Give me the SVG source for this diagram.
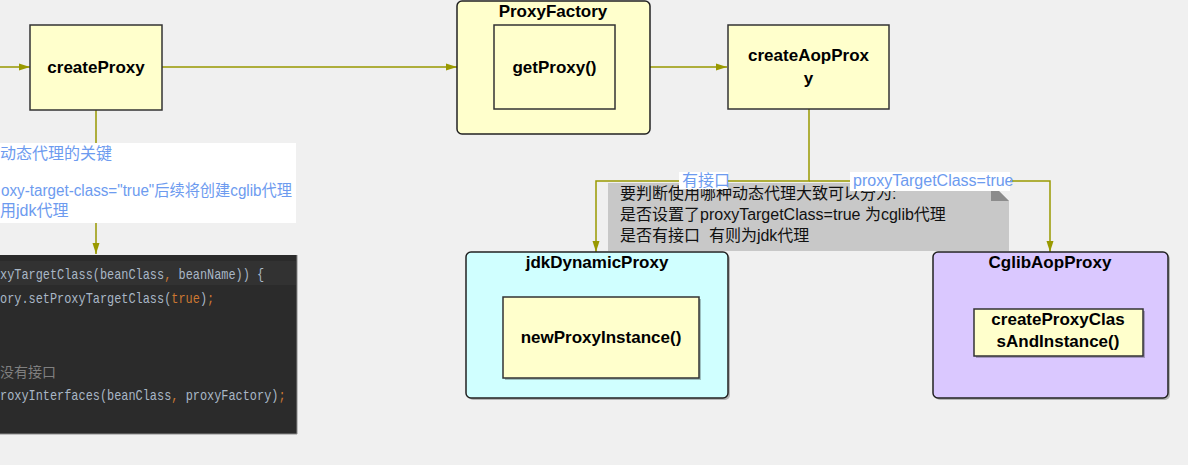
<svg xmlns="http://www.w3.org/2000/svg" width="1188" height="465" viewBox="0 0 1188 465">
<style>
.bg{fill:#f0f0f0}
.box{fill:#ffffcc;stroke:#333;stroke-width:1.5}
.outer{stroke:#222;stroke-width:1.5}
.shadow{fill:#000;opacity:0.25}
.t{font-family:"Liberation Sans","Noto Sans CJK SC",sans-serif;font-weight:bold;font-size:17px;fill:#000;text-anchor:middle}
.con{fill:none;stroke:#999900;stroke-width:1.5}
.lbl{font-family:"Liberation Sans","Noto Sans CJK SC",sans-serif;font-size:16px;fill:#6d9bef}
.note{font-family:"Liberation Sans","Noto Sans CJK SC",sans-serif;font-size:16px;fill:#111;white-space:pre}
.code{font-family:"Liberation Mono","Noto Sans CJK SC",monospace;font-size:14px;fill:#a9b7c6}
.kw{fill:#cc7832}
.cm{fill:#808080}
</style>
<defs>
<marker id="arr" markerUnits="userSpaceOnUse" markerWidth="11" markerHeight="8" refX="11" refY="4" orient="auto">
<path d="M0,0.5 L11,4 L0,7.5 z" fill="#999900"/>
</marker>
</defs>
<rect class="bg" x="0" y="0" width="1188" height="465"/>

<g id="connectors">
<path class="con" d="M0,67 H30" marker-end="url(#arr)"/>
<path class="con" d="M162,67 H457" marker-end="url(#arr)"/>
<path class="con" d="M650,67 H727" marker-end="url(#arr)"/>
<path class="con" d="M96,110 V254" marker-end="url(#arr)"/>
<path class="con" d="M809,109 V181 H596 V252" marker-end="url(#arr)"/>
<path class="con" d="M809,181 H1050 V252" marker-end="url(#arr)"/>
</g>

<g id="annotation-left">
<rect x="0" y="143" width="296" height="80" fill="#ffffff"/>
<text class="lbl" font-size="15" x="0" y="159">动态代理的关键</text>
<text class="lbl" font-size="15" x="1" y="196" textLength="291" lengthAdjust="spacingAndGlyphs">oxy-target-class="true"后续将创建cglib代理</text>
<text class="lbl" font-size="15" x="0" y="216">用jdk代理</text>
</g>

<g id="code-panel">
<rect x="0" y="255" width="297" height="179" fill="#2b2b2b"/>
<rect x="0" y="261" width="296" height="24" fill="#323232"/>
<path d="M297,255 V434 H0" fill="none" stroke="#8a8a8a" stroke-width="1"/>
<g transform="scale(0.85,1)">
<text class="code" x="0" y="279">xyTargetClass(beanClass</text>
<text class="code kw" x="193.2" y="279">,</text>
<text class="code" x="210" y="279">beanName)) {</text>
<text class="code" x="0" y="303">ory.setProxyTargetClass(</text>
<text class="code kw" x="201.6" y="303">true</text>
<text class="code" x="235.2" y="303">)</text>
<text class="code kw" x="243.6" y="303">;</text>
<text class="code" x="0" y="400">roxyInterfaces(beanClass</text>
<text class="code kw" x="201.6" y="400">,</text>
<text class="code" x="218.4" y="400">proxyFactory)</text>
<text class="code kw" x="327.6" y="400">;</text>
</g>
<text class="code cm" x="0" y="377">没有接口</text>
</g>

<g id="createProxy">
<rect class="box" x="30" y="25" width="132" height="85"/>
<text class="t" x="96" y="73">createProxy</text>
</g>

<g id="ProxyFactory">
<rect class="outer" x="457" y="1" width="193" height="133" rx="5" fill="#ffffcc"/>
<text class="t" x="553" y="17">ProxyFactory</text>
<g id="getProxy">
<rect class="box" x="494" y="25" width="121" height="84"/>
<text class="t" x="554.5" y="73">getProxy()</text>
</g>
</g>

<g id="createAopProxy">
<rect class="box" x="728" y="25" width="161" height="84"/>
<text class="t" x="808.5" y="61">createAopProx</text>
<text class="t" x="808.5" y="84">y</text>
</g>

<g id="note">
<path d="M608,183 H991 L1009,201 V251 H608 Z" fill="#c8c8c8"/>
<path d="M991,183 V201 H1009 Z" fill="#8c8c8c"/>
<text class="note" x="620" y="199">要判断使用哪种动态代理大致可以分为:</text>
<text class="note" x="620" y="220">是否设置了proxyTargetClass=true 为cglib代理</text>
<text class="note" x="620" y="241" xml:space="preserve">是否有接口  有则为jdk代理</text>
</g>

<g id="labels">
<rect x="679" y="172" width="49" height="17" fill="#ffffff"/>
<text class="lbl" font-size="15" x="682" y="186">有接口</text>
<rect x="850" y="172" width="160" height="19" fill="#ffffff"/>
<text class="lbl" x="853" y="186">proxyTargetClass=true</text>
</g>

<g id="jdkDynamicProxy">
<rect class="shadow" x="468" y="254" width="262" height="146" rx="5"/>
<rect class="outer" x="466" y="252" width="262" height="146" rx="5" fill="#d0ffff"/>
<text class="t" x="597" y="268">jdkDynamicProxy</text>
<g id="newProxyInstance">
<rect class="shadow" x="505" y="299" width="196" height="81"/>
<rect class="box" x="503" y="297" width="196" height="81"/>
<text class="t" x="601" y="343">newProxyInstance()</text>
</g>
</g>

<g id="CglibAopProxy">
<rect class="shadow" x="935" y="254" width="235" height="146" rx="5"/>
<rect class="outer" x="933" y="252" width="235" height="146" rx="5" fill="#dac8ff"/>
<text class="t" x="1050" y="268">CglibAopProxy</text>
<g id="createProxyClassAndInstance">
<rect class="shadow" x="976" y="311" width="169" height="47"/>
<rect class="box" x="974" y="309" width="169" height="47"/>
<text class="t" x="1058" y="325">createProxyClas</text>
<text class="t" x="1058" y="347">sAndInstance()</text>
</g>
</g>
</svg>
